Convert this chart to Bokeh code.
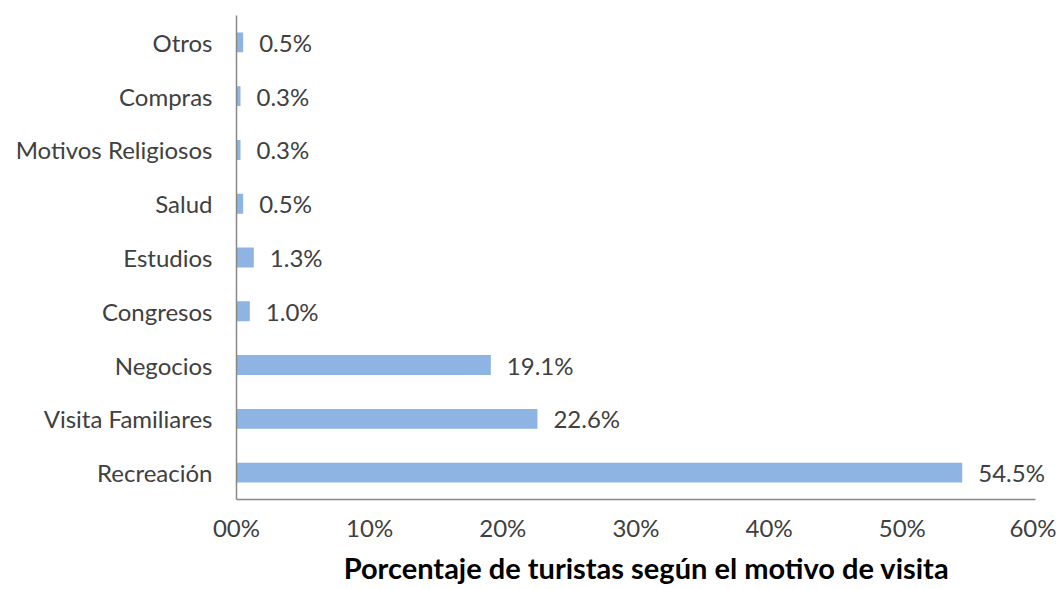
from bokeh.plotting import figure
from bokeh.models import ColumnDataSource, LabelSet, FixedTicker, Range1d, FactorRange
from bokeh.core.properties import value
from bokeh.embed import file_html
from bokeh.resources import INLINE

categories = ["Recreación", "Visita Familiares", "Negocios", "Congresos", "Estudios",
              "Salud", "Motivos Religiosos", "Compras", "Otros"]
values = [54.5, 22.6, 19.1, 1.0, 1.3, 0.5, 0.3, 0.3, 0.5]
x_ticks = [0, 10, 20, 30, 40, 50, 60]
x_tick_labels = ["00%", "10%", "20%", "30%", "40%", "50%", "60%"]
axis_title = "Porcentaje de turistas según el motivo de visita"

FONT = "Lato"
TXT = "#404040"
FS = "24px"

src = ColumnDataSource(dict(cat=categories, val=values,
                            lab=[f"{v:.1f}%" for v in values]))

p = figure(width=1056, height=589, output_backend="svg", toolbar_location=None,
           y_range=FactorRange(*categories, range_padding=0), x_range=Range1d(0, 61.58),
           min_border_left=236, min_border_right=0, min_border_top=15,
           min_border_bottom=90)
p.outline_line_color = None
p.grid.grid_line_color = None
p.background_fill_color = "white"

p.hbar(y="cat", right="val", left=0, height=0.37, source=src,
       fill_color="#8DB4E2", line_color=None)

labels = LabelSet(x="val", y="cat", text="lab", source=src, x_offset=16,
                  text_baseline="middle", text_align="left",
                  text_font=value(FONT), text_font_size=value(FS), text_color=value(TXT))
p.add_layout(labels)

xa = p.xaxis[0]
xa.bounds = (0, 60)
xa.ticker = FixedTicker(ticks=x_ticks)
xa.major_label_overrides = {t: l for t, l in zip(x_ticks, x_tick_labels)}
xa.major_tick_in = 0
xa.major_tick_out = 0
xa.minor_tick_in = 0
xa.minor_tick_out = 0
xa.major_label_standoff = 13
xa.major_label_text_font = FONT
xa.major_label_text_font_size = FS
xa.major_label_text_color = TXT
xa.axis_line_color = "#888888"
xa.axis_line_width = 1.5
xa.axis_label = axis_title
xa.axis_label_text_font = FONT
xa.axis_label_text_font_size = "29px"
xa.axis_label_text_font_style = "bold"
xa.axis_label_text_color = "black"
xa.axis_label_standoff = 5

ya = p.yaxis[0]
ya.major_tick_in = 0
ya.major_tick_out = 0
ya.major_label_standoff = 24
ya.major_label_text_font = FONT
ya.major_label_text_font_size = FS
ya.major_label_text_color = TXT
ya.axis_line_color = "#888888"
ya.axis_line_width = 1.5

open("out.html", "w").write(file_html(p, INLINE))
